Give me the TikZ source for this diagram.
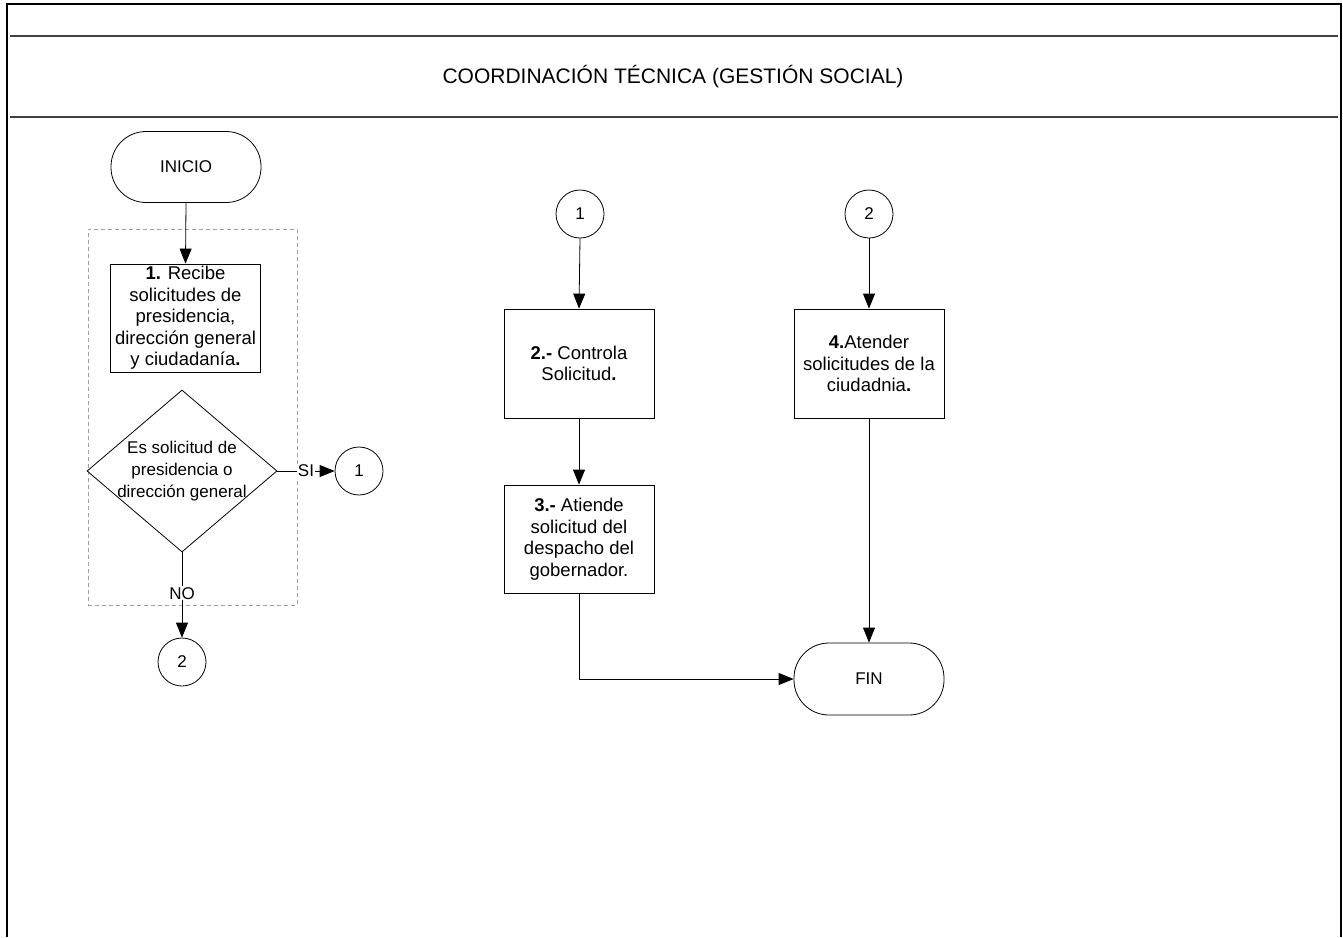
\documentclass[tikz,border=0pt]{standalone}
\usepackage{fontspec}
\setmainfont{Liberation Sans}
\usetikzlibrary{arrows.meta,shapes.geometric}
\tikzset{
  terminal/.style={draw, line width=0.8pt, rounded corners=35pt, minimum width=150pt, minimum height=71pt, inner sep=0pt, font=\fontsize{17}{20}\selectfont},
  procbox/.style={draw, line width=0.8pt, minimum width=150pt, minimum height=108pt, inner sep=0pt, align=center, font=\fontsize{18.5}{21.5}\selectfont},
  decision/.style={draw, line width=0.8pt, diamond, minimum width=190pt, minimum height=162pt, inner sep=0pt, aspect=1.17},
  dectxt/.style={inner sep=0pt, align=center, font=\fontsize{17}{22}\selectfont},
  connector/.style={draw, line width=0.8pt, circle, minimum size=48pt, inner sep=0pt, font=\fontsize{17}{20}\selectfont},
  arrow/.style={line width=0.8pt, -{Triangle[length=15pt,width=12pt]}},
  lbl/.style={fill=white, inner sep=1pt, font=\fontsize{17}{20}\selectfont},
  group/.style={draw=gray!75, dash pattern=on 4pt off 3pt, line width=0.7pt, minimum width=209pt, minimum height=376pt, inner sep=0pt},
  frame/.style={line width=2.2pt},
  headline/.style={line width=1.3pt, black!75},
}
\begin{document}
\begin{tikzpicture}[x=1pt, y=-1pt]
\useasboundingbox (0,0) rectangle (1343,937);
% frame
\draw[frame] (7,937) -- (7,4) -- (1341,4) -- (1341,937);
\draw[headline] (10,36) -- (1338,36);
\draw[headline] (10,117) -- (1338,117);
\node[font=\fontsize{21}{25}\selectfont] (title) at (673,77) {COORDINACIÓN TÉCNICA (GESTIÓN SOCIAL)};

% left column
\node[group] (grp) at (192.5,417) {};
\node[terminal] (inicio) at (186,167) {INICIO};
\node[procbox] (b1) at (185.5,318) {\textbf{1.} Recibe\\solicitudes de\\presidencia,\\dirección general\\y ciudadanía\textbf{.}};
\node[decision] (dec) at (182,471) {};
\node[dectxt] (dectext) at (182,471) {Es solicitud de\\presidencia o\\dirección general};
\node[connector] (c1a) at (359,471) {1};
\node[connector] (c2a) at (182,662) {2};

% middle and right columns
\node[connector] (c1b) at (580,214) {1};
\node[connector] (c2b) at (869,214) {2};
\node[procbox, minimum height=109pt] (b2) at (579,363.5) {\textbf{2.-} Controla\\Solicitud\textbf{.}};
\node[procbox, minimum height=109pt] (b4) at (869,363.5) {\textbf{4.}Atender\\solicitudes de la\\ciudadnia\textbf{.}};
\node[procbox] (b3) at (579,539) {\textbf{3.-} Atiende\\solicitud del\\despacho del\\gobernador.};
\node[terminal, minimum height=72pt] (fin) at (869,679) {FIN};

% connectors
\draw[arrow] (inicio.south) -- (b1.north);
\draw[arrow] (dec.east) -- node[lbl, pos=0.5] (si) {SI} (c1a.west);
\draw[arrow] (dec.south) -- node[lbl, pos=0.48] (no) {NO} (c2a.north);
\draw[arrow] (c1b.south) -- (b2.north);
\draw[arrow] (b2.south) -- (b3.north);
\draw[arrow] (b3.south) |- (fin.west);
\draw[arrow] (c2b.south) -- (b4.north);
\draw[arrow] (b4.south) -- (fin.north);
\end{tikzpicture}
\end{document}
